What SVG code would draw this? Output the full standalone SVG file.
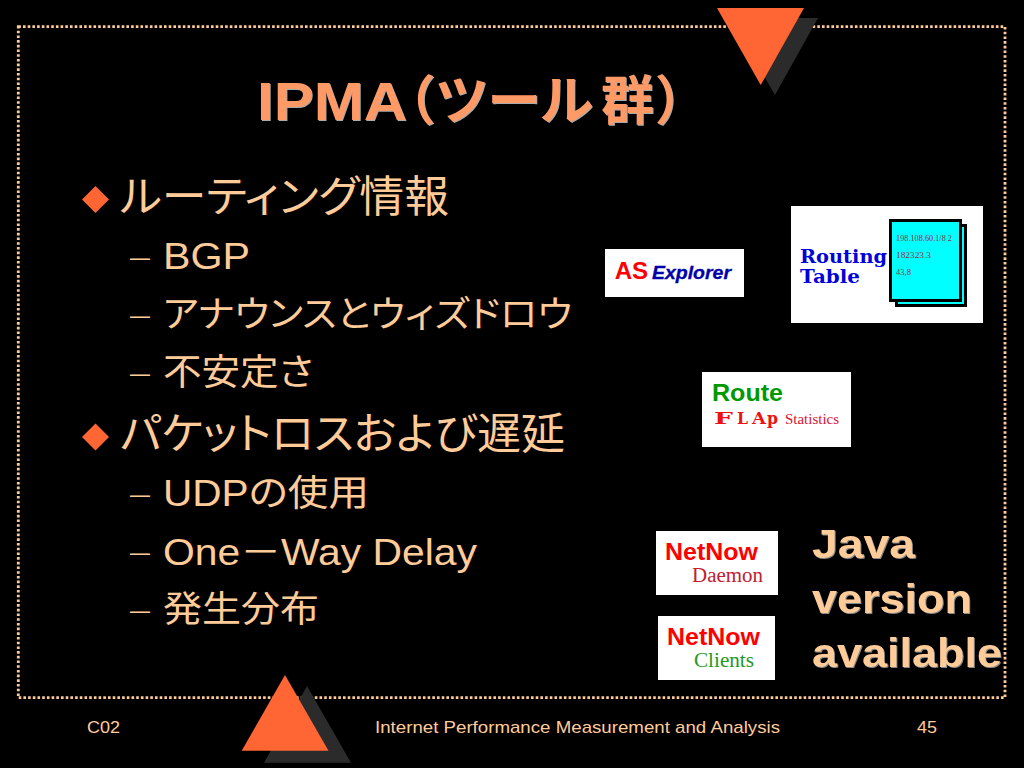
<svg xmlns="http://www.w3.org/2000/svg" width="1024" height="768" viewBox="0 0 1024 768">
<style>
text{font-family:"Liberation Sans","Noto Sans CJK JP",sans-serif}
.l1{font-size:43px;fill:#FFCC99;font-feature-settings:"palt"}
.l2{font-size:36px;fill:#FFCC99;font-feature-settings:"palt"}
.dash{font-size:22px;fill:#FFCC99}
.foot{font-size:17px;fill:#FFCC99}
.title{font-size:53px;font-weight:700;font-feature-settings:"palt";fill:#FF9966;filter:drop-shadow(1.5px 1.5px 0 #AAAAAA)}
.java{font-family:"Liberation Sans",sans-serif;font-size:40px;font-weight:700;fill:#FFCC99;filter:drop-shadow(1.5px 1.5px 0 #888888)}
.sans{font-family:"Liberation Sans",sans-serif;font-weight:700}
.serif{font-family:"Liberation Serif",serif}
.slab{font-family:"DejaVu Serif",serif;font-weight:700}
.o{fill:#FF6633}
.s{fill:#2B2B2B}
.w{fill:#FFFFFF}
.ip{font-family:"Liberation Serif",serif;font-size:9px;fill:#903040}
</style>
<rect width="1024" height="768" fill="#000000"/>
<rect id="frame" x="18.3" y="26.7" width="986.7" height="671" fill="none" stroke="#FFCC99" stroke-width="2.8" stroke-dasharray="2.6 2.1"/>
<g id="deco-top"><polygon class="s" points="730,18 818,18 775,95"/><polygon class="o" points="717,8 804,8 760.7,85"/></g>
<g id="deco-bottom"><polygon class="s" points="307,686 351,762.7 264,762.7"/><polygon class="o" points="285,675 328.5,750.7 241.7,750.7"/></g>
<g id="title">
<text class="title" y="120"><tspan x="257" textLength="150" lengthAdjust="spacingAndGlyphs">IPMA</tspan><tspan x="407">（</tspan><tspan x="436" textLength="157" lengthAdjust="spacingAndGlyphs">ツール</tspan><tspan x="601">群</tspan><tspan x="657">）</tspan></text>
</g>
<g id="bullets">
<polygon class="o" points="95.5,186 109,199.5 95.5,213 82,199.5"/>
<polygon class="o" points="95.5,423.5 109,437 95.5,450.5 82,437"/>
<text class="l1" x="120" y="212" textLength="329" lengthAdjust="spacingAndGlyphs">ルーティング情報</text>
<text class="l1" x="120" y="449" textLength="445" lengthAdjust="spacingAndGlyphs">パケットロスおよび遅延</text>
<text class="dash" x="130" y="265" textLength="20" lengthAdjust="spacingAndGlyphs">–</text>
<text class="dash" x="130" y="323" textLength="20" lengthAdjust="spacingAndGlyphs">–</text>
<text class="dash" x="130" y="381" textLength="20" lengthAdjust="spacingAndGlyphs">–</text>
<text class="dash" x="130" y="502" textLength="20" lengthAdjust="spacingAndGlyphs">–</text>
<text class="dash" x="130" y="560" textLength="20" lengthAdjust="spacingAndGlyphs">–</text>
<text class="dash" x="130" y="618" textLength="20" lengthAdjust="spacingAndGlyphs">–</text>
<text class="l2" x="163" y="269" textLength="87" lengthAdjust="spacingAndGlyphs">BGP</text>
<text class="l2" x="163" y="327" textLength="409" lengthAdjust="spacingAndGlyphs">アナウンスとウィズドロウ</text>
<text class="l2" x="163" y="385" textLength="150" lengthAdjust="spacingAndGlyphs">不安定さ</text>
<text class="l2" x="163" y="506" textLength="206" lengthAdjust="spacingAndGlyphs">UDPの使用</text>
<text class="l2" x="163" y="565" textLength="314" lengthAdjust="spacingAndGlyphs">One－Way Delay</text>
<text class="l2" x="163" y="622" textLength="156" lengthAdjust="spacingAndGlyphs">発生分布</text>
</g>
<g id="as-explorer">
<rect class="w" x="605" y="249" width="139" height="48"/>
<text class="sans" x="614.7" y="278.5" font-size="24" fill="#FF0000" textLength="33.5" lengthAdjust="spacingAndGlyphs">AS</text>
<text class="sans" x="652" y="278.5" font-size="18" font-style="italic" fill="#0000AA" stroke="#0000AA" stroke-width="0.3" textLength="79" lengthAdjust="spacingAndGlyphs">Explorer</text>
</g>
<g id="routing-table">
<rect class="w" x="791" y="206" width="192" height="117"/>
<text class="slab" x="800" y="262.5" font-size="19" fill="#0000DD" textLength="87" lengthAdjust="spacingAndGlyphs">Routing</text>
<text class="slab" x="800" y="283" font-size="19" fill="#0000DD" textLength="60" lengthAdjust="spacingAndGlyphs">Table</text>
<rect x="896.5" y="225.5" width="69" height="80" fill="#00FFFF" stroke="#000000" stroke-width="3"/>
<rect x="890.5" y="220.5" width="70" height="80" fill="#00FFFF" stroke="#000000" stroke-width="3"/>
<text class="ip" x="896" y="241" textLength="56" lengthAdjust="spacingAndGlyphs">198.108.60.1/8 2</text>
<text class="ip" x="896" y="258" textLength="35" lengthAdjust="spacingAndGlyphs">182323.3</text>
<text class="ip" x="896" y="275" textLength="15" lengthAdjust="spacingAndGlyphs">43,8</text>
</g>
<g id="route-flap">
<rect class="w" x="702" y="372" width="149" height="75"/>
<text class="sans" x="712" y="401" font-size="24" fill="#009900" textLength="71" lengthAdjust="spacingAndGlyphs">Route</text>
<text class="slab" y="424" font-size="17" fill="#EE1111"><tspan x="714" textLength="19" lengthAdjust="spacingAndGlyphs">F</tspan><tspan x="737" textLength="11" lengthAdjust="spacingAndGlyphs">L</tspan><tspan x="752" textLength="14" lengthAdjust="spacingAndGlyphs">A</tspan><tspan x="767" textLength="11" lengthAdjust="spacingAndGlyphs">p</tspan></text>
<text class="serif" x="785" y="424" font-size="15" fill="#DD1133" textLength="54" lengthAdjust="spacingAndGlyphs">Statistics</text>
</g>
<g id="netnow-daemon">
<rect class="w" x="656" y="531" width="122" height="64"/>
<text class="sans" x="665" y="560" font-size="23" fill="#FF0000" textLength="93" lengthAdjust="spacingAndGlyphs">NetNow</text>
<text class="serif" x="692" y="581.5" font-size="20" fill="#C02030" textLength="71" lengthAdjust="spacingAndGlyphs">Daemon</text>
</g>
<g id="netnow-clients">
<rect class="w" x="658" y="616" width="117" height="64"/>
<text class="sans" x="667" y="645" font-size="23" fill="#FF0000" textLength="93" lengthAdjust="spacingAndGlyphs">NetNow</text>
<text class="serif" x="694" y="667" font-size="20" fill="#229922" textLength="60" lengthAdjust="spacingAndGlyphs">Clients</text>
</g>
<g id="java-note">
<text class="java" x="812" y="558" textLength="103" lengthAdjust="spacingAndGlyphs">Java</text>
<text class="java" x="812" y="613" textLength="160" lengthAdjust="spacingAndGlyphs">version</text>
<text class="java" x="812" y="667" textLength="190" lengthAdjust="spacingAndGlyphs">available</text>
</g>
<g id="footer">
<text class="foot" x="87" y="733" textLength="33" lengthAdjust="spacingAndGlyphs">C02</text>
<text class="foot" x="375" y="733" textLength="405" lengthAdjust="spacingAndGlyphs">Internet Performance Measurement and Analysis</text>
<text class="foot" x="917" y="733" textLength="20" lengthAdjust="spacingAndGlyphs">45</text>
</g>
</svg>
